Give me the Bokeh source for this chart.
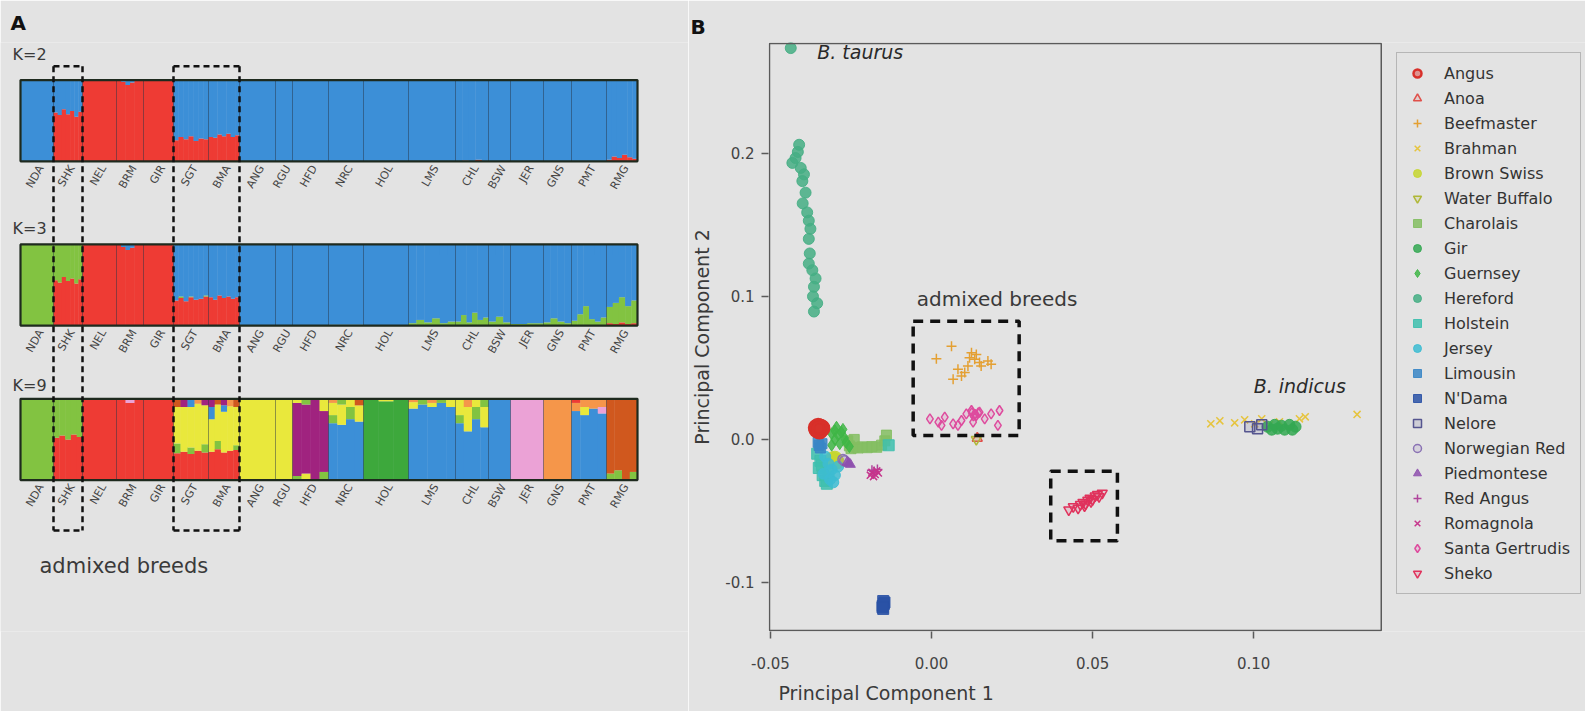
import numpy as np
from bokeh.plotting import figure
from bokeh.models import (Range1d, Label, Legend, LegendItem, BoxAnnotation,
                          FixedTicker, PrintfTickFormatter, Title)
from bokeh.layouts import row
from bokeh.embed import file_html
from bokeh.resources import INLINE
from bokeh.core.properties import value

FONT = "DejaVu Sans"
BG = "#e3e3e3"
TXT = "#3a3a3a"

# ====================== Panel A : ADMIXTURE bars ======================
breeds = ["NDA", "SHK", "NEL", "BRM", "GIR", "SGT", "BMA", "ANG", "RGU", "HFD",
          "NRC", "HOL", "LMS", "CHL", "BSW", "JER", "GNS", "PMT", "RMG"]
# relative number of animals per breed (bar widths)
breed_width = [33, 29, 34, 27, 30, 35, 31, 36, 17, 36, 35, 45, 47, 33, 22, 33, 28, 35, 31]
k_labels = ["K=2", "K=3", "K=9"]

cluster_color = {
    "R": "#EE3B34", "B": "#3C8FD7", "L": "#82C341", "Y": "#E9E83C",
    "P": "#A0237F", "G": "#3DA83C", "K": "#EBA2D6", "O": "#F5964A", "T": "#D0581E",
}

# K=2 : red (indicine) ancestry per sub-group of animals; blue is the remainder
K2_red = {
    "NDA": [0], "SHK": [.60, .57, .64, .58, .62, .55, .61], "NEL": [1],
    "BRM": [1, .98, .94, .97, 1, 1], "GIR": [1],
    "SGT": [.26, .30, .27, .31, .25, .28, .27], "BMA": [.30, .29, .33, .31, .34, .30, .32],
    "ANG": [0], "RGU": [0], "HFD": [0], "NRC": [0], "HOL": [0], "LMS": [0],
    "CHL": [0, .01, 0, .02, 0], "BSW": [0], "JER": [0], "GNS": [0], "PMT": [0],
    "RMG": [.02, .06, .04, .08, .05, .03],
}
# K=3 : (red, light green) per sub-group; blue is the remainder
K3_red_green = {
    "NDA": [(0, 1)],
    "SHK": [(.56, .44), (.53, .47), (.60, .40), (.55, .45), (.58, .42), (.52, .48), (.57, .43)],
    "NEL": [(1, 0)], "BRM": [(1, 0), (.97, 0), (.93, 0), (.96, 0), (1, 0), (1, 0)], "GIR": [(1, 0)],
    "SGT": [(.31, 0), (.34, .02), (.30, 0), (.35, .01), (.32, 0), (.33, 0), (.36, .01)],
    "BMA": [(.35, 0), (.32, 0), (.37, 0), (.34, 0), (.36, 0), (.33, 0), (.35, 0)],
    "ANG": [(0, 0)], "RGU": [(0, 0)], "HFD": [(0, 0)], "NRC": [(0, .01)], "HOL": [(0, 0)],
    "LMS": [(0, .03), (0, .07), (0, .04), (0, .09), (0, .03), (0, .05)],
    "CHL": [(0, .05), (0, .13), (0, .04), (0, .16), (0, .07), (0, .10)],
    "BSW": [(0, .05), (0, .11), (0, .04)], "JER": [(0, .02), (0, .03)],
    "GNS": [(0, .04), (0, .09), (0, .05), (0, .03)],
    "PMT": [(0, .06), (0, .14), (0, .24), (0, .08), (0, .05), (0, .10)],
    "RMG": [(.03, .20), (.02, .26), (.04, .31), (.02, .22), (.03, .28)],
}
# K=9 : stacked (cluster, fraction) from the bottom, per sub-group of animals
K9 = {
    "NDA": [[("L", 1)]],
    "SHK": [[("R", .52), ("L", .48)], [("R", .55), ("L", .45)], [("R", .50), ("L", .50)],
            [("R", .56), ("L", .44)], [("R", .53), ("L", .47)]],
    "NEL": [[("R", 1)]],
    "BRM": [[("R", 1)], [("R", .95), ("K", .05)], [("R", 1)]],
    "GIR": [[("R", 1)]],
    "SGT": [[("R", .33), ("L", .12), ("Y", .45), ("T", .10)], [("R", .35), ("Y", .55), ("P", .10)],
            [("R", .32), ("L", .08), ("Y", .50), ("B", .10)], [("R", .36), ("Y", .58), ("O", .06)],
            [("R", .34), ("L", .10), ("Y", .48), ("P", .08)]],
    "BMA": [[("R", .35), ("Y", .40), ("B", .15), ("P", .10)], [("R", .38), ("L", .10), ("Y", .45), ("T", .07)],
            [("R", .34), ("Y", .50), ("B", .08), ("P", .08)], [("R", .36), ("Y", .55), ("O", .09)],
            [("R", .37), ("L", .06), ("Y", .47), ("T", .10)]],
    "ANG": [[("Y", 1)]],
    "RGU": [[("Y", 1)]],
    "HFD": [[("L", .05), ("P", .90), ("Y", .05)], [("Y", .08), ("P", .85), ("L", .07)],
            [("P", 1)], [("L", .10), ("P", .75), ("Y", .15)]],
    "NRC": [[("B", .70), ("L", .10), ("Y", .15), ("O", .05)], [("B", .68), ("Y", .25), ("L", .07)],
            [("B", .75), ("L", .15), ("Y", .10)], [("B", .72), ("Y", .20), ("T", .08)]],
    "HOL": [[("G", 1)], [("G", .97), ("Y", .03)], [("G", 1)]],
    "LMS": [[("B", .88), ("Y", .08), ("O", .04)], [("B", .93), ("L", .07)], [("B", .90), ("Y", .05), ("O", .05)],
            [("B", .95), ("L", .05)], [("B", .90), ("Y", .10)]],
    "CHL": [[("B", .70), ("L", .10), ("Y", .20)], [("B", .60), ("Y", .30), ("O", .10)],
            [("B", .75), ("L", .15), ("Y", .10)], [("B", .65), ("Y", .25), ("L", .10)]],
    "BSW": [[("B", 1)]],
    "JER": [[("K", 1)]],
    "GNS": [[("O", 1)]],
    "PMT": [[("B", .85), ("O", .10), ("R", .05)], [("B", .80), ("Y", .10), ("O", .10)],
            [("B", .88), ("O", .12)], [("B", .82), ("K", .08), ("O", .10)]],
    "RMG": [[("L", .08), ("T", .92)], [("L", .12), ("T", .88)], [("T", 1)], [("L", .10), ("T", .90)]],
}

k2cols = {b: [[("R", r), ("B", 1 - r)] for r in K2_red[b]] for b in breeds}
k3cols = {b: [[("R", r), ("L", g), ("B", max(0.0, 1 - r - g))] for r, g in K3_red_green[b]] for b in breeds}
panels = [k2cols, k3cols, K9]

# layout constants (page pixels)
bar_tops = [78, 244, 400]
bar_h = 82
k_label_y = [52, 228, 386]

pa = figure(width=688, height=711, x_range=Range1d(-20, 668), y_range=Range1d(635, 40),
            output_backend="svg", toolbar_location=None,
            min_border_left=0, min_border_right=0, min_border_top=40, min_border_bottom=76,
            x_axis_location=None, y_axis_location=None,
            background_fill_color=BG, border_fill_color=BG, outline_line_color=None)
pa.grid.visible = False
pa.title.text = "A"
pa.title.align = "left"
pa.title.offset = 10
pa.title.standoff = 16
pa.title.text_font = FONT
pa.title.text_font_size = "20px"
pa.title.text_font_style = "bold"
pa.title.text_color = "#111"

cum = np.concatenate([[0], np.cumsum(breed_width)]).astype(float)

L, R_, T, Bt, C = [], [], [], [], []
for ktop, data in zip(bar_tops, panels):
    for bi, b in enumerate(breeds):
        subs = data[b]
        w = breed_width[bi] / len(subs)
        for si, sub in enumerate(subs):
            x0 = cum[bi] + si * w
            tot = sum(f for _, f in sub)
            acc = 0.0
            for c, f in sub:
                if f <= 0:
                    continue
                f = f / tot
                ybot = ktop + bar_h * (1 - acc)
                acc += f
                ytop = ktop + bar_h * (1 - acc)
                L.append(x0); R_.append(x0 + w + 0.4); T.append(ytop); Bt.append(ybot)
                C.append(cluster_color[c])
pa.quad(left=L, right=R_, top=T, bottom=Bt, fill_color=C, line_color=None)

# breed separators and bar outlines
for ktop in bar_tops:
    pa.segment(x0=cum[1:-1], x1=cum[1:-1], y0=[ktop] * (len(cum) - 2), y1=[ktop + bar_h] * (len(cum) - 2),
               line_color="#1b2b3b", line_alpha=0.45, line_width=1)
pa.quad(left=[cum[0]] * 3, right=[cum[-1]] * 3, top=bar_tops, bottom=[t + bar_h for t in bar_tops],
        fill_color=None, line_color="#1e2a1e", line_width=2.2)

# breed labels under each bar
centers = (cum[:-1] + cum[1:]) / 2
for ktop in bar_tops:
    pa.text(x=centers + 4, y=[ktop + bar_h + 5] * len(breeds), text=breeds, angle=np.pi / 3,
            text_align="right", text_baseline="middle", text_font=value(FONT),
            text_font_size="11px", text_color="#454545")

# K labels
pa.text(x=[-8] * 3, y=k_label_y, text=k_labels, text_font=value(FONT),
        text_font_size="16px", text_color=TXT, text_baseline="middle")

# dashed boxes around admixed breeds (SHK) and (SGT, BMA)
box_top, box_bot = 64, 533
groups = [(breeds.index("SHK"), breeds.index("SHK")), (breeds.index("SGT"), breeds.index("BMA"))]
vx = []
for a, b in groups:
    vx += [cum[a], cum[b + 1]]
pa.segment(x0=vx, x1=vx, y0=[box_top] * 4, y1=[box_bot] * 4, line_color="#111",
           line_width=2.5, line_dash="6 4")
hx0 = [cum[a] for a, b in groups] * 2
hx1 = [cum[b + 1] for a, b in groups] * 2
hy = [box_top, box_top, box_bot, box_bot]
pa.segment(x0=hx0, x1=hx1, y0=hy, y1=hy, line_color="#111", line_width=2.5, line_dash="6 4")
pa.text(x=[cum[1] - 14], y=[569], text=["admixed breeds"], text_font=value(FONT),
        text_font_size="21px", text_color=TXT, text_baseline="alphabetic")

# ====================== Panel B : PCA ======================
legend_order = ["Angus", "Anoa", "Beefmaster", "Brahman", "Brown Swiss", "Water Buffalo",
                "Charolais", "Gir", "Guernsey", "Hereford", "Holstein", "Jersey", "Limousin",
                "N'Dama", "Nelore", "Norwegian Red", "Piedmontese", "Red Angus", "Romagnola",
                "Santa Gertrudis", "Sheko"]

PC1 = {
    "Angus": [-0.0350, -0.0345, -0.0355, -0.0348, -0.0341, -0.0357, -0.0352, -0.0346],
    "Anoa": [0.0142],
    "Beefmaster": [0.0062, 0.0015, 0.0124, 0.0149, 0.0118, 0.0175, 0.0082, 0.0103, 0.0067,
                   0.0134, 0.0154, 0.0113, 0.0093, 0.0139, 0.0185],
    "Brahman": [0.0867, 0.0895, 0.0941, 0.0972, 0.1003, 0.1025, 0.1049, 0.1080, 0.1142, 0.1160, 0.1321],
    "Brown Swiss": [-0.0303, -0.0298, -0.0308, -0.0300, -0.0295, -0.0305],
    "Water Buffalo": [0.0139],
    "Charolais": [-0.0255, -0.0250, -0.0240, -0.0228, -0.0215, -0.0200, -0.0185, -0.0170, -0.0155,
                  -0.0145, -0.0140, -0.0260, -0.0240],
    "Gir": [0.1043, 0.1065, 0.1086, 0.1111, 0.1130, 0.1096, 0.1074, 0.1056, 0.1120],
    "Guernsey": [-0.0310, -0.0300, -0.0290, -0.0280, -0.0270, -0.0300, -0.0285, -0.0265, -0.0310,
                 -0.0275, -0.0255, -0.0295],
    "Hereford": [-0.0437, -0.0411, -0.0422, -0.0432, -0.0406, -0.0396, -0.0401, -0.0391, -0.0386,
                 -0.0381, -0.0376, -0.0381, -0.0381, -0.0370, -0.0360, -0.0365, -0.0355, -0.0365,
                 -0.0415, -0.0400, -0.0378, -0.0368],
    "Holstein": [-0.0355, -0.0345, -0.0350, -0.0338, -0.0330, -0.0320, -0.0340, -0.0325, -0.0133],
    "Jersey": [-0.0330, -0.0320, -0.0310, -0.0300, -0.0315, -0.0290, -0.0335, -0.0305],
    "Limousin": [-0.0349, -0.0345, -0.0340, -0.0352],
    "N'Dama": [-0.0150, -0.0148, -0.0152, -0.0146, -0.0150, -0.0152],
    "Nelore": [0.0988, 0.1012, 0.1025],
    "Norwegian Red": [-0.0270, -0.0275],
    "Piedmontese": [-0.0257, -0.0262, -0.0252],
    "Red Angus": [-0.0178, -0.0168, -0.0185],
    "Romagnola": [-0.0185, -0.0175, -0.0170, -0.0180, -0.0165, -0.0190],
    "Santa Gertrudis": [-0.0005, 0.0021, 0.0041, 0.0067, 0.0093, 0.0108, 0.0124, 0.0139, 0.0149,
                        0.0165, 0.0185, 0.0211, 0.0206, 0.0129, 0.0082, 0.0031, 0.0125, 0.0135,
                        0.0145, 0.0130],
    "Sheko": [0.0426, 0.0440, 0.0455, 0.0462, 0.0470, 0.0478, 0.0485, 0.0492, 0.0500, 0.0508,
              0.0515, 0.0520, 0.0530, 0.0475, 0.0495],
}
PC2 = {
    "Angus": [0.0075, 0.0085, 0.0068, 0.0060, 0.0078, 0.0082, 0.0090, 0.0070],
    "Anoa": [0.0008],
    "Beefmaster": [0.0652, 0.0564, 0.0606, 0.0537, 0.0571, 0.0548, 0.0490, 0.0467, 0.0421,
                   0.0560, 0.0513, 0.0513, 0.0444, 0.0594, 0.0525],
    "Brahman": [0.0109, 0.0130, 0.0116, 0.0137, 0.0109, 0.0144, 0.0102, 0.0123, 0.0144, 0.0158, 0.0175],
    "Brown Swiss": [-0.0145, -0.0150, -0.0140, -0.0135, -0.0155, -0.0152],
    "Water Buffalo": [0.0000],
    "Charolais": [-0.0045, -0.0065, -0.0055, -0.0060, -0.0052, -0.0058, -0.0050, -0.0055, -0.0040,
                  -0.0010, 0.0030, -0.0010, 0.0000],
    "Gir": [0.0089, 0.0102, 0.0096, 0.0102, 0.0089, 0.0068, 0.0075, 0.0068, 0.0068],
    "Guernsey": [0.0040, 0.0060, 0.0030, 0.0050, 0.0010, 0.0000, -0.0030, -0.0020, -0.0040,
                 0.0070, -0.0050, 0.0085],
    "Hereford": [0.2736, 0.2060, 0.1967, 0.1933, 0.1898, 0.1853, 0.1806, 0.1725, 0.1587,
                 0.1529, 0.1472, 0.1402, 0.1229, 0.1183, 0.1125, 0.1067, 0.0952, 0.0894,
                 0.2010, 0.1650, 0.1300, 0.1000],
    "Holstein": [-0.0100, -0.0150, -0.0200, -0.0250, -0.0290, -0.0220, -0.0180, -0.0310, -0.0041],
    "Jersey": [-0.0120, -0.0170, -0.0210, -0.0250, -0.0280, -0.0190, -0.0240, -0.0300],
    "Limousin": [-0.0043, -0.0060, -0.0030, -0.0020],
    "N'Dama": [-0.1130, -0.1150, -0.1165, -0.1140, -0.1185, -0.1175],
    "Nelore": [0.0089, 0.0075, 0.0102],
    "Norwegian Red": [-0.0150, -0.0140],
    "Piedmontese": [-0.0168, -0.0160, -0.0175],
    "Red Angus": [-0.0225, -0.0210, -0.0215],
    "Romagnola": [-0.0230, -0.0245, -0.0220, -0.0260, -0.0235, -0.0250],
    "Santa Gertrudis": [0.0144, 0.0121, 0.0156, 0.0109, 0.0132, 0.0179, 0.0202, 0.0167, 0.0190,
                        0.0144, 0.0179, 0.0202, 0.0098, 0.0121, 0.0098, 0.0098, 0.0185, 0.0175,
                        0.0185, 0.0165],
    "Sheko": [-0.0492, -0.0470, -0.0480, -0.0455, -0.0440, -0.0450, -0.0425, -0.0410, -0.0420,
              -0.0395, -0.0385, -0.0400, -0.0375, -0.0465, -0.0435],
}

# marker, colour, filled
breed_style = {
    "Angus": ("circle", "#D8302A", False), "Anoa": ("triangle", "#E0504A", False),
    "Beefmaster": ("cross", "#E4A033", False), "Brahman": ("x", "#E6C43E", False),
    "Brown Swiss": ("circle", "#C6D630", True), "Water Buffalo": ("inverted_triangle", "#B0B838", False),
    "Charolais": ("square", "#84BE62", True), "Gir": ("circle", "#34A852", True),
    "Guernsey": ("diamond", "#3FB646", True), "Hereford": ("circle", "#45AE84", True),
    "Holstein": ("square", "#3EBFAE", True), "Jersey": ("circle", "#3DBCD2", True),
    "Limousin": ("square", "#3A86C6", True), "N'Dama": ("square", "#2A52A6", True),
    "Nelore": ("square", "#55558F", False), "Norwegian Red": ("circle", "#8A72B4", False),
    "Piedmontese": ("triangle", "#8E50AE", True), "Red Angus": ("cross", "#B0449C", False),
    "Romagnola": ("x", "#C6358C", False), "Santa Gertrudis": ("diamond", "#DE4C9E", False),
    "Sheko": ("inverted_triangle", "#E0325C", False),
}
marker_size = {"Angus": 15, "Hereford": 11, "Brown Swiss": 15, "N'Dama": 11, "Gir": 11,
               "Holstein": 11, "Jersey": 11, "Guernsey": 12}

# plotting region of the PCA (data units) and annotation regions
pc1_lim = (-0.0503, 0.1396)
pc2_lim = (-0.1336, 0.2768)
admix_box_1 = (-0.0057, 0.0272, 0.0028, 0.0826)   # left, right, bottom, top
admix_box_2 = (0.0370, 0.0577, -0.0708, -0.0223)

x_per_px = (pc1_lim[1] - pc1_lim[0]) / 614.0
y_per_px = (pc2_lim[1] - pc2_lim[0]) / 593.0
# the frame extends right to hold the legend that sits beside the box
pb = figure(width=897, height=711,
            x_range=Range1d(pc1_lim[0] - x_per_px, pc1_lim[1] + x_per_px * 205),
            y_range=Range1d(pc2_lim[0] - y_per_px, pc2_lim[1] + y_per_px),
            output_backend="svg", toolbar_location=None,
            min_border_left=78, min_border_right=0, min_border_top=40, min_border_bottom=76,
            background_fill_color=BG, border_fill_color=BG, outline_line_color=None)
pb.grid.visible = False
pb.title.text = "B"
pb.title.align = "left"
pb.title.offset = -78
pb.title.standoff = 7
pb.title.text_font = FONT
pb.title.text_font_size = "20px"
pb.title.text_font_style = "bold"
pb.title.text_color = "#111"

for ax in (pb.xaxis[0], pb.yaxis[0]):
    ax.axis_line_color = None
    ax.major_tick_line_color = "#5a5a5a"
    ax.major_tick_line_width = 1.5
    ax.major_tick_out = 7
    ax.major_tick_in = 0
    ax.minor_tick_line_color = None
    ax.major_label_text_font = FONT
    ax.major_label_text_font_size = "15px"
    ax.major_label_text_color = "#444"
    ax.axis_label_text_font = FONT
    ax.axis_label_text_font_size = "19px"
    ax.axis_label_text_font_style = "normal"
    ax.axis_label_text_color = TXT
pb.xaxis.ticker = FixedTicker(ticks=[-0.05, 0.0, 0.05, 0.10])
pb.xaxis.formatter = PrintfTickFormatter(format="%.2f")
pb.yaxis.ticker = FixedTicker(ticks=[-0.1, 0.0, 0.1, 0.2])
pb.yaxis.formatter = PrintfTickFormatter(format="%.1f")
pb.yaxis.axis_label = "Principal Component 2"
pb.xaxis.major_label_standoff = 18
pb.yaxis.major_label_standoff = 7
pb.yaxis.axis_label_standoff = 9

pb.add_layout(Title(text="Principal Component 1", align="left", offset=10, standoff=16,
                    text_font=FONT, text_font_size="19px", text_font_style="normal",
                    text_color=TXT), "below")

# box around the PCA plotting region
pb.add_layout(BoxAnnotation(left=pc1_lim[0], right=pc1_lim[1], bottom=pc2_lim[0], top=pc2_lim[1],
                            fill_alpha=0, line_color="#5a5a5a", line_alpha=1.0, line_width=1.5))

renderers = {}
draw_order = [b for b in legend_order if b != "Angus"] + ["Angus"]
for b in draw_order:
    mk, col, filled = breed_style[b]
    sz = marker_size.get(b, 10)
    if filled:
        r = pb.scatter(PC1[b], PC2[b], marker=mk, size=sz, fill_color=col, fill_alpha=0.85,
                       line_color=col, line_alpha=0.9, line_width=1)
    else:
        r = pb.scatter(PC1[b], PC2[b], marker=mk, size=sz, fill_color=col,
                       fill_alpha=0.45 if b == "Angus" else 0.15,
                       line_color=col, line_width=2.5 if b == "Angus" else 1.5)
    renderers[b] = r

for bx in (admix_box_1, admix_box_2):
    pb.add_layout(BoxAnnotation(left=bx[0], right=bx[1], bottom=bx[2], top=bx[3],
                                fill_alpha=0, line_color="#111", line_alpha=1.0, line_width=3.5,
                                line_dash="10 7"))

pb.add_layout(Label(x=-0.0355, y=0.2706, text="B. taurus", text_font=FONT, text_font_size="19px",
                    text_font_style="italic", text_color="#2a2a2a", text_baseline="middle"))
pb.add_layout(Label(x=-0.0046, y=0.0982, text="admixed breeds", text_font=FONT, text_font_size="20px",
                    text_color=TXT, text_baseline="middle"))
pb.add_layout(Label(x=0.1000, y=0.0373, text="B. indicus", text_font=FONT, text_font_size="19px",
                    text_font_style="italic", text_color="#2a2a2a", text_baseline="middle"))

legend = Legend(items=[LegendItem(label=b, renderers=[renderers[b]]) for b in legend_order],
                location=(628, 37), orientation="vertical",
                label_text_font=FONT, label_text_font_size="16px", label_text_color="#333",
                glyph_width=20, glyph_height=20, label_height=20, spacing=5, padding=10,
                label_standoff=17, margin=0,
                border_line_color="#8a8a8a", border_line_width=1.5, background_fill_alpha=0)
pb.add_layout(legend, "center")

layout = row(pa, pb)
open("out.html", "w").write(file_html(layout, INLINE))
